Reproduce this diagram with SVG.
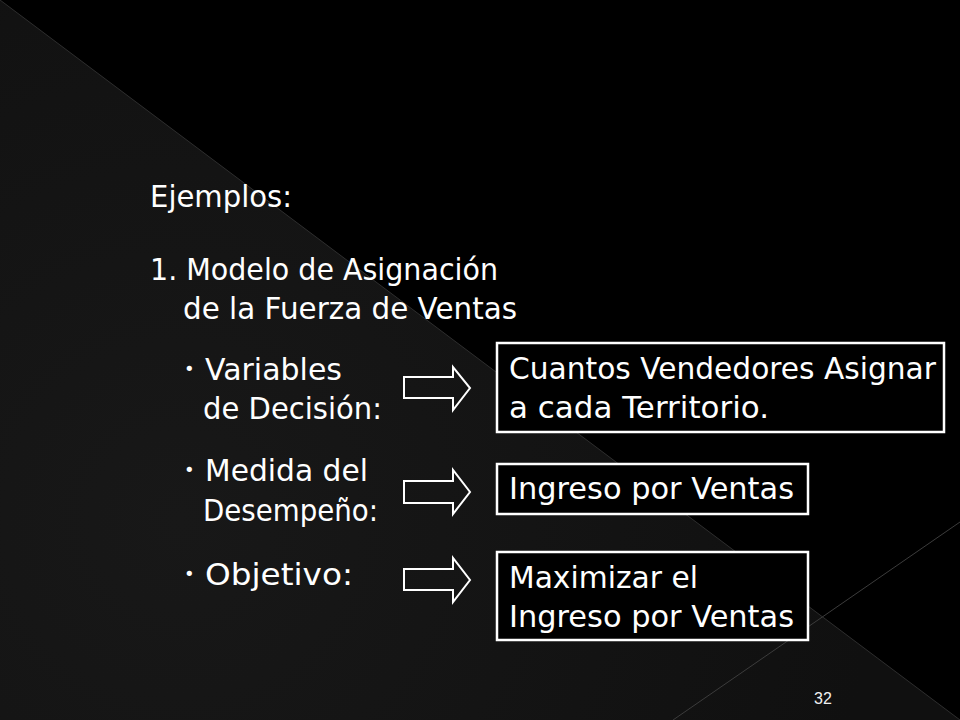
<svg xmlns="http://www.w3.org/2000/svg" width="960" height="720" viewBox="0 0 960 720">
  <defs>
    <radialGradient id="gray" cx="180" cy="520" r="700" gradientUnits="userSpaceOnUse">
      <stop offset="0" stop-color="#181818"/>
      <stop offset="1" stop-color="#101010"/>
    </radialGradient>
    <style>
      .t { font-family: "DejaVu Sans", "Noto Sans", sans-serif; font-size: 30px; fill: #ffffff; }
      .b { font-family: "DejaVu Sans", sans-serif; font-size: 18px; fill: #ffffff; }
      .box { fill: #000000; stroke: #ffffff; stroke-width: 2.5; }
      .arrow { fill: none; stroke: #ffffff; stroke-width: 2; stroke-linejoin: miter; }
      .num { font-family: "Liberation Sans", Arial, sans-serif; font-size: 16px; fill: #f0f0f0; }
    </style>
  </defs>

  <!-- background -->
  <rect x="0" y="0" width="960" height="720" fill="#000000"/>
  <polygon points="0,0 960,720 0,720" fill="url(#gray)"/>
  <line x1="0" y1="0" x2="960" y2="720" stroke="#2e2e2e" stroke-width="1"/>
  <line x1="960" y1="522" x2="673" y2="720" stroke="#3c3c3c" stroke-width="1"/>

  <!-- title texts -->
  <g id="titulo">
    <text class="t" x="150" y="207" textLength="142" lengthAdjust="spacingAndGlyphs">Ejemplos:</text>
    <text class="t" x="150" y="280" textLength="348" lengthAdjust="spacingAndGlyphs">1. Modelo de Asignación</text>
    <text class="t" x="183" y="319" textLength="334" lengthAdjust="spacingAndGlyphs">de la Fuerza de Ventas</text>
  </g>

  <!-- left labels -->
  <g id="variables">
    <text class="b" x="184" y="375">•</text>
    <text class="t" x="205" y="380" textLength="137" lengthAdjust="spacingAndGlyphs">Variables</text>
    <text class="t" x="203" y="419" textLength="179" lengthAdjust="spacingAndGlyphs">de Decisión:</text>
  </g>
  <g id="medida">
    <text class="b" x="184" y="476">•</text>
    <text class="t" x="205" y="481" textLength="163" lengthAdjust="spacingAndGlyphs">Medida del</text>
    <text class="t" x="203" y="521" textLength="175" lengthAdjust="spacingAndGlyphs">Desempeño:</text>
  </g>
  <g id="objetivo">
    <text class="b" x="184" y="580">•</text>
    <text class="t" x="205" y="585" textLength="148" lengthAdjust="spacingAndGlyphs">Objetivo:</text>
  </g>

  <!-- connectors (block arrows) -->
  <g id="connectors">
    <path class="arrow" d="M404,377 H453 V367 L470,388 L453,410 V398 H404 Z"/>
    <path class="arrow" d="M404,481 H453 V470 L470,492 L453,514 V503 H404 Z"/>
    <path class="arrow" d="M404,569 H453 V558 L470,580 L453,602 V590 H404 Z"/>
  </g>

  <!-- right boxes -->
  <g id="box-vendedores">
    <rect class="box" x="497" y="343" width="447" height="89"/>
    <text class="t" x="509" y="379" textLength="427" lengthAdjust="spacingAndGlyphs">Cuantos Vendedores Asignar</text>
    <text class="t" x="509" y="418" textLength="260" lengthAdjust="spacingAndGlyphs">a cada Territorio.</text>
  </g>
  <g id="box-ingreso">
    <rect class="box" x="497" y="464" width="311" height="50"/>
    <text class="t" x="509" y="499" textLength="285" lengthAdjust="spacingAndGlyphs">Ingreso por Ventas</text>
  </g>
  <g id="box-maximizar">
    <rect class="box" x="497" y="552" width="311" height="88"/>
    <text class="t" x="509" y="588" textLength="189" lengthAdjust="spacingAndGlyphs">Maximizar el</text>
    <text class="t" x="509" y="627" textLength="285" lengthAdjust="spacingAndGlyphs">Ingreso por Ventas</text>
  </g>

  <!-- page number -->
  <text class="num" x="823" y="704" text-anchor="middle">32</text>
</svg>
